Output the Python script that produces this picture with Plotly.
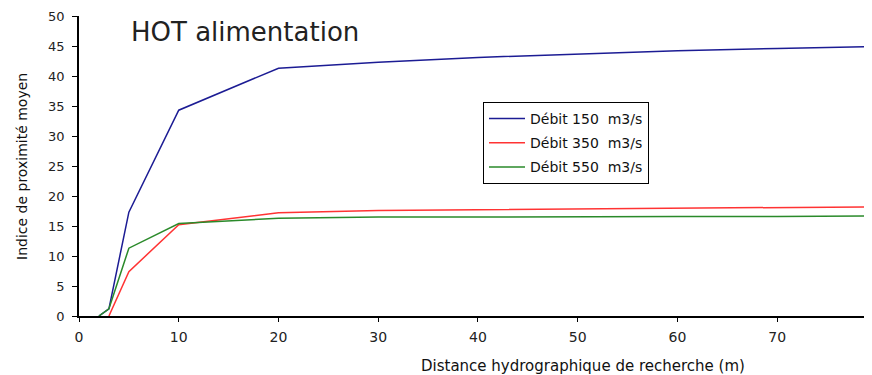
import plotly.graph_objects as go

x_150 = [2, 3, 5, 10, 20, 30, 40, 50, 60, 70, 80]
y_150 = [0, 1.2, 17.3, 34.3, 41.3, 42.3, 43.1, 43.7, 44.2, 44.6, 44.9]
x_350 = [3, 5, 10, 20, 30, 40, 50, 60, 70, 80]
y_350 = [0, 7.4, 15.2, 17.2, 17.6, 17.7, 17.9, 18.0, 18.1, 18.2]
x_550 = [2, 3, 5, 10, 20, 30, 40, 50, 60, 70, 80]
y_550 = [0, 1.2, 11.3, 15.4, 16.3, 16.5, 16.5, 16.6, 16.6, 16.6, 16.7]

names = ["Débit 150  m3/s", "Débit 350  m3/s", "Débit 550  m3/s"]
colors = ["#1c1c94", "#ff3333", "#2a8a2a"]

FONT = "DejaVu Sans, Verdana, sans-serif"

fig = go.Figure()
for i, (xs, ys, n, c) in enumerate(zip([x_150, x_350, x_550], [y_150, y_350, y_550], names, colors)):
    fig.add_trace(go.Scatter(x=xs, y=ys, mode="lines", name=n, legendgroup=f"g{i}",
                             line=dict(color=c, width=1.5)))

# page body has an 8px margin; figure is shrunk by 8px so it fits the window
W, H = 864, 367
L, T, B, R = 71, 8, 59, 0
pw, ph = W - L - R, H - T - B

def px(xs):
    return (xs - 8 - L) / pw

def py(ys):
    return (H - B - (ys - 8)) / ph

xtick_font = dict(family=FONT, size=14, color="#222")
ytick_font = dict(family=FONT, size=13, color="#222")
fig.update_layout(
    width=W, height=H,
    margin=dict(l=L, r=R, t=T, b=B, autoexpand=False),
    paper_bgcolor="white", plot_bgcolor="white",
    font=xtick_font,
    showlegend=True,
    legend=dict(x=px(483), y=py(102), xanchor="left", yanchor="top",
                bordercolor="black", borderwidth=1, bgcolor="white",
                font=dict(family=FONT, size=14, color="#111"),
                tracegroupgap=3, itemwidth=36),
    xaxis=dict(range=[0, 79.5], tickvals=[0, 10, 20, 30, 40, 50, 60, 70],
               showgrid=False, zeroline=False, showline=True, linecolor="black",
               linewidth=1.5, ticks="outside", ticklen=4, tickcolor="black",
               tickfont=xtick_font, automargin=False, ticklabelstandoff=3),
    yaxis=dict(range=[0, 50], dtick=5, showgrid=False, zeroline=False,
               showline=True, linecolor="black", linewidth=1.5,
               ticks="outside", ticklen=5, tickcolor="black", tickfont=ytick_font,
               automargin=False, ticklabelstandoff=5),
    annotations=[
        dict(text="HOT alimentation", x=px(129), y=py(32), xref="paper", yref="paper",
             showarrow=False, font=dict(family=FONT, size=26, color="#222"),
             xanchor="left", yanchor="middle"),
        dict(text="Distance hydrographique de recherche (m)", x=px(583), y=py(366),
             xref="paper", yref="paper", xanchor="center", yanchor="middle",
             showarrow=False, font=dict(family=FONT, size=15, color="#111")),
        dict(text="Indice de proximité moyen", x=px(22), y=py(167), textangle=-90,
             xref="paper", yref="paper", xanchor="center", yanchor="middle",
             showarrow=False, font=dict(family=FONT, size=14, color="#111")),
    ],
)

fig.write_html("out.html")
